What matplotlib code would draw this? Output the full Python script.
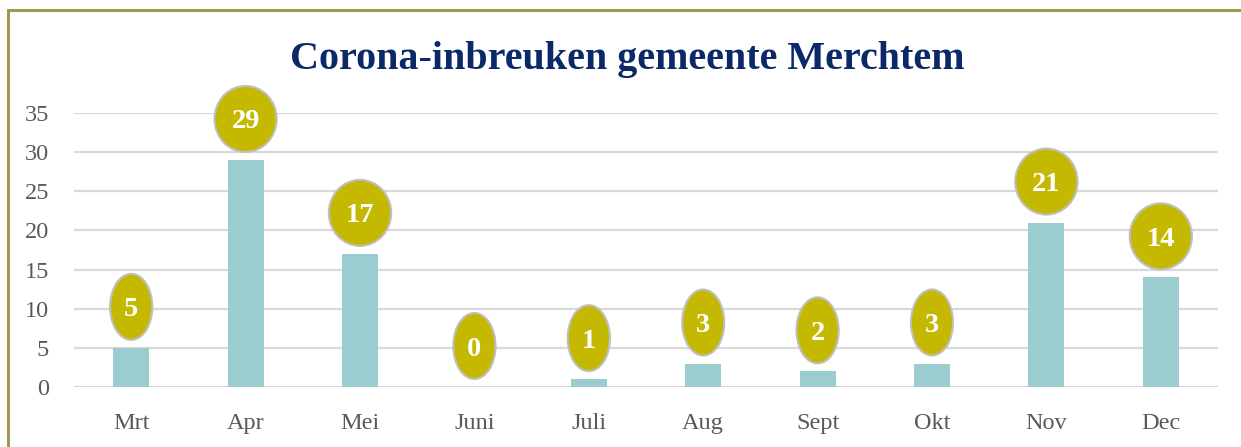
import math
import matplotlib
matplotlib.use("Agg")
import matplotlib.pyplot as plt
from matplotlib.patches import Rectangle
from matplotlib.path import Path
from matplotlib.transforms import Affine2D

months = ["Mrt", "Apr", "Mei", "Juni", "Juli", "Aug", "Sept", "Okt", "Nov", "Dec"]
values = [5, 29, 17, 0, 1, 3, 2, 3, 21, 14]
yticks = [0, 5, 10, 15, 20, 25, 30, 35]
title = "Corona-inbreuken gemeente Merchtem"

W, H = 1241, 447
fig = plt.figure(figsize=(W / 100, H / 100), dpi=100)
fig.patch.set_facecolor("white")

# outer border (only top and left visible in reference)
fig.patches.append(Rectangle((7.5 / W, -0.1), 1.2, (H - 9.5) / H + 0.1,
                             transform=fig.transFigure, fill=False,
                             edgecolor="#9e9a55", linewidth=2.2))

left, right = 74 / W, 1218 / W
bottom, top = (H - 387) / H, (H - 113) / H
ax = fig.add_axes([left, bottom, right - left, top - bottom])

serif = "Liberation Serif"
x = list(range(len(months)))
ax.bar(x, values, width=0.315, color="#9bcdd0", zorder=2)
ax.set_xlim(-0.5, len(months) - 0.5)
ax.set_ylim(0, 35)
ax.set_yticks(yticks)
ax.set_yticklabels([str(t) for t in yticks], fontfamily=serif, fontsize=17.5, color="#595959")
ax.set_xticks(x)
ax.set_xticklabels(months, fontfamily=serif, fontsize=17.5, color="#595959")
ax.tick_params(axis="both", length=0)
ax.tick_params(axis="y", pad=18)
ax.tick_params(axis="x", pad=18.5)
ax.grid(axis="y", color="#d9d9d9", linewidth=1.6, zorder=0)
ax.set_axisbelow(True)
for s in ax.spines.values():
    s.set_visible(False)


def callout_ellipse(x0, y0, width, height, mutation_size):
    padx = 0.275 * mutation_size
    a = (width + 2 * padx) / math.sqrt(2)
    b = 1.165 * mutation_size
    cx = x0 + width / 2
    cy = y0 + height / 2 + 0.106 * mutation_size
    return Affine2D().scale(a, b).translate(cx, cy).transform_path(Path.unit_circle())


for xi, v in zip(x, values):
    ax.annotate(str(v), xy=(xi, v), xytext=(0, 38), textcoords="offset pixels",
                ha="center", va="center", fontsize=20.4, fontweight="bold",
                fontfamily=serif, color="white", zorder=5, annotation_clip=False,
                bbox=dict(boxstyle=callout_ellipse, facecolor="#c4b800",
                          edgecolor="#bfbfbf", linewidth=1.5))

fig.text(627.5 / W, (H - 60) / H, title, ha="center", va="center", fontfamily=serif,
         fontsize=28.9, fontweight="bold", color="#0b2868")

fig.savefig("out.png", dpi=100)
